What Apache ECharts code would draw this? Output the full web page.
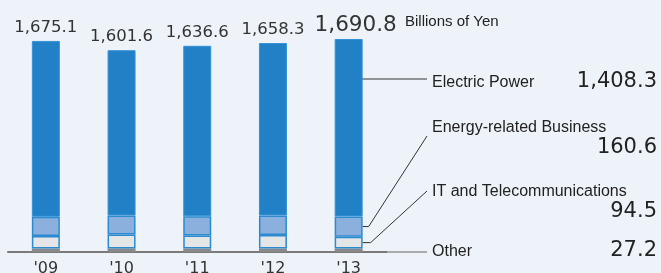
<!DOCTYPE html>
<html>
<head>
<meta charset="utf-8">
<script src="https://cdn.jsdelivr.net/npm/echarts@6/dist/echarts.min.js"></script>
<style>
  html, body { margin: 0; padding: 0; background: #eef3f9; }
  #main { width: 661px; height: 273px; }
</style>
</head>
<body>
<div id="main"></div>
<script>
// fiscal years
var years = ["'09", "'10", "'11", "'12", "'13"];
// segment values (billions of yen), bottom to top
var other = [27, 28, 27, 27, 27.2];
var itTelecom = [100, 110, 103, 108, 94.5];
var energyRel = [153, 152, 153, 155, 160.6];
var electric = [1395.1, 1311.6, 1353.6, 1368.3, 1408.3];
// totals written over the bars
var totals = ['1,675.1', '1,601.6', '1,636.6', '1,658.3', '1,690.8'];
// segment names and latest-year values on the right
var segNames = ['Electric Power', 'Energy-related Business', 'IT and Telecommunications', 'Other'];
var segLatest = ['1,408.3', '160.6', '94.5', '27.2'];

var numFont = 'DejaVu Sans';
var txtFont = 'Liberation Sans';
var edge = '#2b8ad0';

var chart = echarts.init(document.getElementById('main'));

var topData = electric.map(function (v, i) {
  if (i == electric.length - 1) {
    return { value: v, label: { fontSize: 21.5, distance: 3, offset: [7, 0] } };
  }
  return v;
});

var option = {
  backgroundColor: '#eef3f9',
  animation: false,
  grid: { left: 8, width: 378.5, top: 0, bottom: 21, containLabel: false, outerBoundsMode: 'none' },
  xAxis: {
    type: 'category',
    data: years,
    axisTick: { show: false },
    axisLine: { lineStyle: { color: '#7a7a7a', width: 2 } },
    axisLabel: { color: '#333', fontFamily: numFont, fontSize: 16, margin: 9 }
  },
  yAxis: {
    type: 'value', min: 0, max: 2000, show: false,
    splitLine: { show: false }
  },
  series: [
    {
      name: 'Other', type: 'bar', stack: 'rev', barWidth: 28,
      itemStyle: { color: '#888' },
      data: other
    },
    {
      name: 'IT and Telecommunications', type: 'bar', stack: 'rev', barWidth: 28,
      itemStyle: { color: '#e3e5e7', borderColor: edge, borderWidth: 1.5 },
      data: itTelecom
    },
    {
      name: 'Energy-related Business', type: 'bar', stack: 'rev', barWidth: 28,
      itemStyle: { color: '#8cb0de', borderColor: edge, borderWidth: 1.5 },
      data: energyRel
    },
    {
      name: 'Electric Power', type: 'bar', stack: 'rev', barWidth: 28,
      itemStyle: { color: '#2180c6', borderColor: '#3592d6', borderWidth: 1 },
      label: {
        show: true, position: 'top', distance: 5,
        color: '#333', fontFamily: numFont, fontSize: 16.5,
        formatter: function (p) { return totals[p.dataIndex]; }
      },
      data: topData
    }
  ]
};
chart.setOption(option);

// leader lines and right-hand labels
var last = years.length - 1;
var barRight = chart.convertToPixel({ xAxisIndex: 0 }, years[last]) + 14;
var yEnergy = chart.convertToPixel({ yAxisIndex: 0 }, other[last] + itTelecom[last] + energyRel[last] / 2);
var yIt = chart.convertToPixel({ yAxisIndex: 0 }, other[last] + itTelecom[last] / 2);
var yBase = chart.convertToPixel({ yAxisIndex: 0 }, 0);

var lineStyle = { stroke: '#333', lineWidth: 1, fill: null };
var nameX = 432, valX = 657, lineEnd = 427;

function txt(x, y, s, font, size, align) {
  return {
    type: 'text', x: x, y: y,
    style: { text: s, fill: '#222', fontFamily: font, fontSize: size, align: align, verticalAlign: 'middle' }
  };
}

chart.setOption({
  graphic: [
    txt(405, 22, 'Billions of Yen', txtFont, 15, 'left'),
    { type: 'polyline', shape: { points: [[barRight - 2, 79], [lineEnd, 79]] }, style: lineStyle },
    { type: 'polyline', shape: { points: [[barRight, yEnergy], [barRight + 6, yEnergy], [lineEnd, 136]] }, style: lineStyle },
    { type: 'polyline', shape: { points: [[barRight, yIt], [barRight + 8, yIt], [lineEnd, 191]] }, style: lineStyle },
    { type: 'polyline', shape: { points: [[barRight, yBase], [lineEnd, yBase]] }, style: { stroke: '#666', lineWidth: 1, fill: null } },
    txt(nameX, 83, segNames[0], txtFont, 16, 'left'),
    txt(valX, 82, segLatest[0], numFont, 21, 'right'),
    txt(nameX, 128, segNames[1], txtFont, 16, 'left'),
    txt(valX, 148, segLatest[1], numFont, 21, 'right'),
    txt(nameX, 191.5, segNames[2], txtFont, 16, 'left'),
    txt(valX, 211.5, segLatest[2], numFont, 21, 'right'),
    txt(nameX, 252, segNames[3], txtFont, 16, 'left'),
    txt(valX, 251, segLatest[3], numFont, 21, 'right')
  ]
});
</script>
</body>
</html>
